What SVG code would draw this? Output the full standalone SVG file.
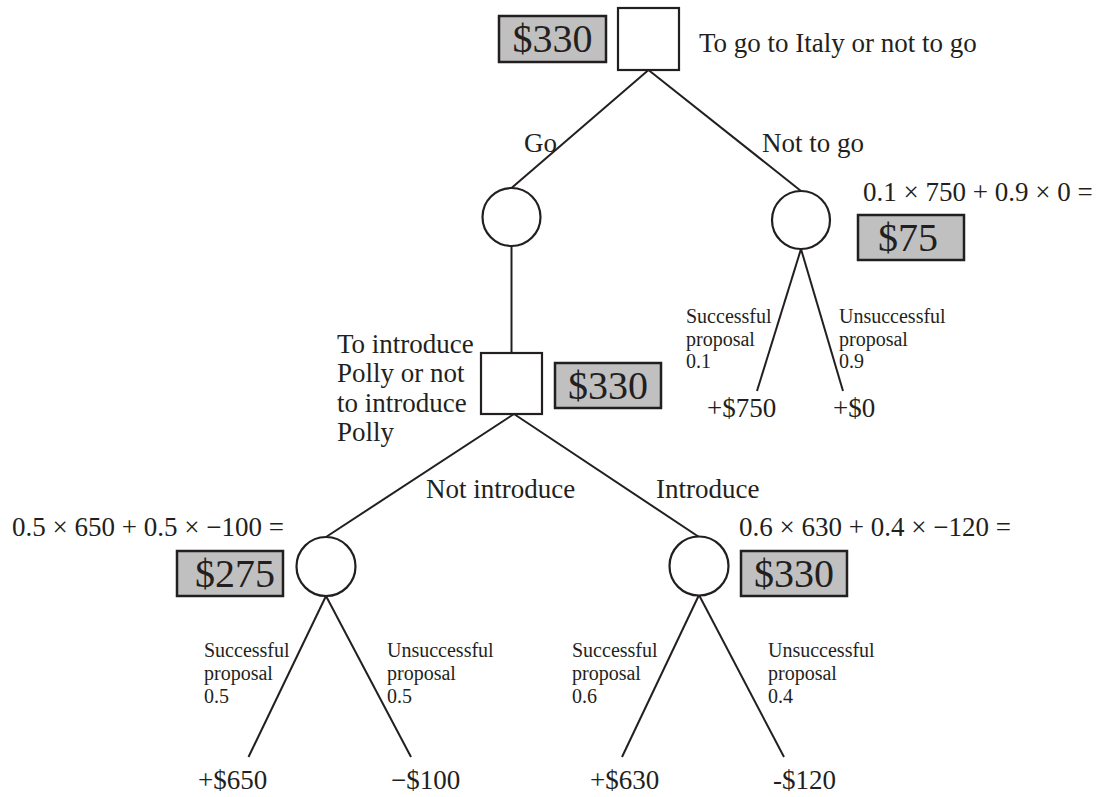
<svg xmlns="http://www.w3.org/2000/svg" width="1099" height="797" viewBox="0 0 1099 797">
  <style>
    text { font-family: "Liberation Serif", "Times New Roman", serif; fill: #231f20; }
    .lbl { font-size: 27px; }
    .sm { font-size: 20px; }
    .val { font-size: 40px; }
    .mid { text-anchor: middle; }
    .edge { stroke: #231f20; stroke-width: 2; fill: none; }
    .dec { fill: #ffffff; stroke: #231f20; stroke-width: 2.2; }
    .chance { fill: #ffffff; stroke: #231f20; stroke-width: 2.2; }
    .ev { fill: #c0c0c0; stroke: #231f20; stroke-width: 2.5; }
  </style>

  <!-- branches -->
  <g id="connectors">
    <line class="edge" x1="648.5" y1="70" x2="511.5" y2="188"/>
    <line class="edge" x1="648.5" y1="70" x2="801" y2="191"/>
    <line class="edge" x1="511.5" y1="246" x2="511.5" y2="353"/>
    <line class="edge" x1="801" y1="249" x2="757" y2="391"/>
    <line class="edge" x1="801" y1="249" x2="843" y2="391"/>
    <line class="edge" x1="514" y1="414" x2="326" y2="537"/>
    <line class="edge" x1="514" y1="414" x2="699" y2="537"/>
    <line class="edge" x1="326" y1="596" x2="248.5" y2="757"/>
    <line class="edge" x1="326" y1="596" x2="411" y2="757"/>
    <line class="edge" x1="699" y1="595" x2="622" y2="757"/>
    <line class="edge" x1="699" y1="595" x2="784" y2="757"/>
  </g>

  <!-- branch labels -->
  <g id="branch-labels">
    <text class="lbl" x="524" y="152">Go</text>
    <text class="lbl" x="762" y="152">Not to go</text>
    <text class="lbl" x="426" y="498">Not introduce</text>
    <text class="lbl" x="656" y="498">Introduce</text>
  </g>

  <!-- root decision: go to Italy -->
  <g id="node-italy">
    <rect class="dec" x="618" y="8" width="61" height="62"/>
    <rect class="ev" x="499" y="16" width="107" height="46"/>
    <text class="val mid" x="552.5" y="52">$330</text>
    <text class="lbl" x="699" y="52">To go to Italy or not to go</text>
  </g>

  <!-- chance node after Go -->
  <g id="node-go">
    <circle class="chance" cx="511.5" cy="217" r="29"/>
  </g>

  <!-- chance node after Not to go -->
  <g id="node-notgo">
    <circle class="chance" cx="801" cy="220" r="29"/>
    <text class="lbl" x="863" y="201">0.1 × 750 + 0.9 × 0 =</text>
    <rect class="ev" x="858" y="215" width="106" height="45"/>
    <text class="val" x="878" y="251">$75</text>
    <text class="sm" x="686" y="323">Successful</text>
    <text class="sm" x="686" y="345.5">proposal</text>
    <text class="sm" x="686" y="368">0.1</text>
    <text class="sm" x="839" y="323">Unsuccessful</text>
    <text class="sm" x="839" y="345.5">proposal</text>
    <text class="sm" x="839" y="368">0.9</text>
    <text class="lbl" x="707" y="417">+$750</text>
    <text class="lbl" x="833" y="417">+$0</text>
  </g>

  <!-- decision: introduce Polly -->
  <g id="node-polly">
    <rect class="dec" x="481" y="353" width="61" height="61"/>
    <rect class="ev" x="555" y="363" width="106" height="45"/>
    <text class="val mid" x="608" y="399">$330</text>
    <text class="lbl" x="337" y="353">To introduce</text>
    <text class="lbl" x="337" y="382">Polly or not</text>
    <text class="lbl" x="337" y="412">to introduce</text>
    <text class="lbl" x="337" y="441">Polly</text>
  </g>

  <!-- chance node: not introduce -->
  <g id="node-not-introduce">
    <circle class="chance" cx="326" cy="566.5" r="29.5"/>
    <text class="lbl" x="12" y="536">0.5 × 650 + 0.5 × −100 =</text>
    <rect class="ev" x="177" y="551" width="106" height="45"/>
    <text class="val" x="195" y="587">$275</text>
    <text class="sm" x="204" y="657">Successful</text>
    <text class="sm" x="204" y="680">proposal</text>
    <text class="sm" x="204" y="703">0.5</text>
    <text class="sm" x="387" y="657">Unsuccessful</text>
    <text class="sm" x="387" y="680">proposal</text>
    <text class="sm" x="387" y="703">0.5</text>
    <text class="lbl" x="198" y="789">+$650</text>
    <text class="lbl" x="391" y="789">−$100</text>
  </g>

  <!-- chance node: introduce -->
  <g id="node-introduce">
    <circle class="chance" cx="699" cy="566" r="29.5"/>
    <text class="lbl" x="739" y="536">0.6 × 630 + 0.4 × −120 =</text>
    <rect class="ev" x="741" y="551" width="106" height="45"/>
    <text class="val mid" x="794" y="587">$330</text>
    <text class="sm" x="572" y="657">Successful</text>
    <text class="sm" x="572" y="680">proposal</text>
    <text class="sm" x="572" y="703">0.6</text>
    <text class="sm" x="768" y="657">Unsuccessful</text>
    <text class="sm" x="768" y="680">proposal</text>
    <text class="sm" x="768" y="703">0.4</text>
    <text class="lbl" x="590" y="789">+$630</text>
    <text class="lbl" x="773" y="789">-$120</text>
  </g>
</svg>
